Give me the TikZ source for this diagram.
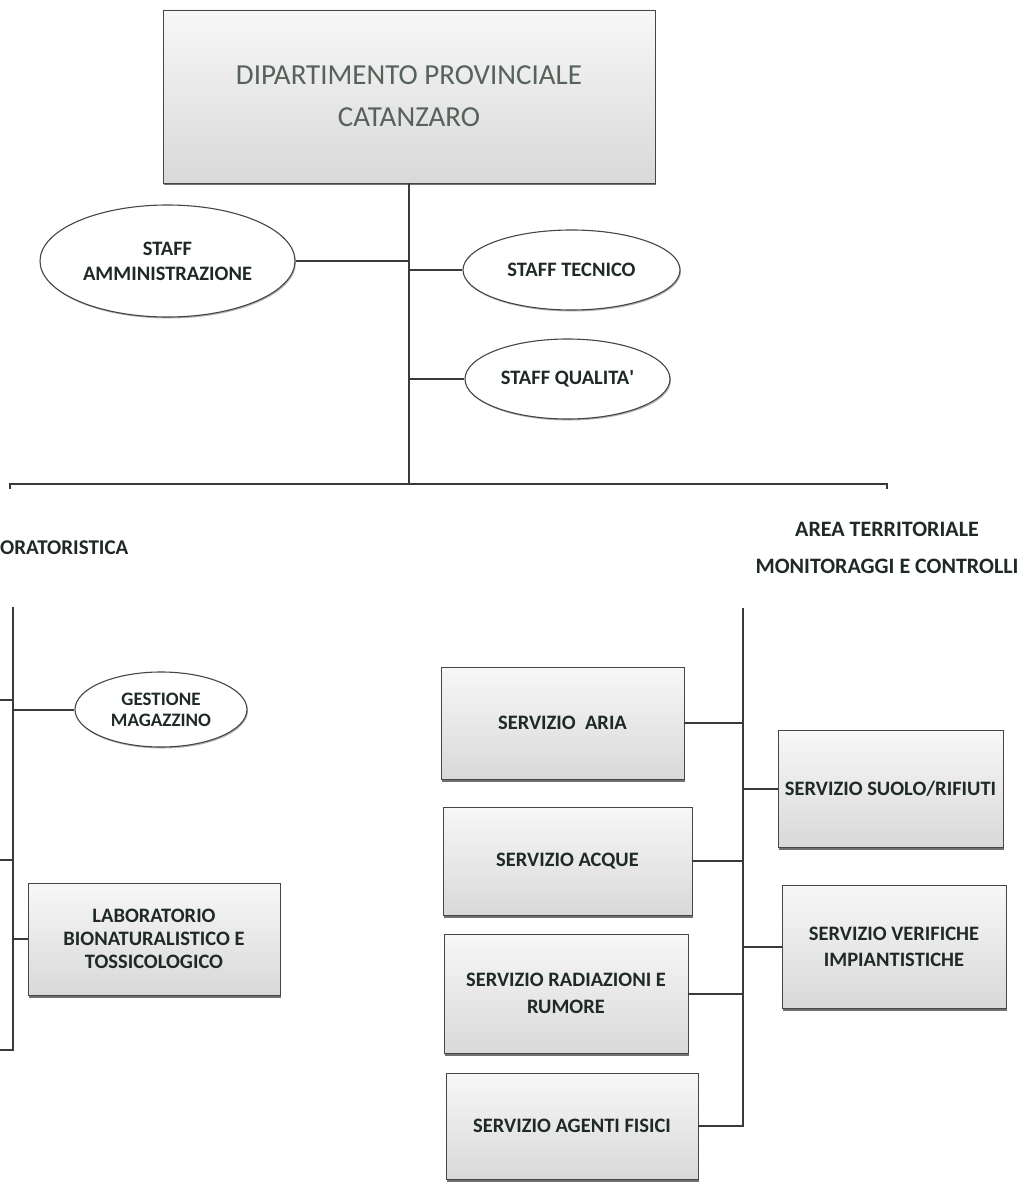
\documentclass[tikz,border=0pt]{standalone}
\usepackage{fontspec}
\setmainfont{Carlito}
\usetikzlibrary{shapes.geometric,shadows}
\definecolor{txt}{HTML}{1F2A24}
\definecolor{toptxt}{HTML}{56625A}
\definecolor{ln}{HTML}{3A3A3A}
\tikzset{
  boxnode/.style={rectangle, draw=gray!55!black, line width=0.8pt, top color=gray!6, bottom color=gray!30,
    text=txt, align=center, inner sep=0pt,
    drop shadow={shadow xshift=1pt, shadow yshift=-2.5pt, fill=black!65, opacity=0.85}},
  ellnode/.style={ellipse, draw=gray!55!black, line width=1.1pt, fill=white, text=txt, align=center, inner sep=0pt,
    drop shadow={shadow xshift=1pt, shadow yshift=-1.5pt, fill=black!50, opacity=0.6}},
  lbl/.style={font=\bfseries\fontsize{20.5}{#1}\selectfont},
  lbl/.default=24,
  conn/.style={draw=ln, line width=2pt},
}
\begin{document}
\begin{tikzpicture}[x=1pt,y=-1pt]
\useasboundingbox[fill=white] (0,0) rectangle (1031,1182);

% top box
\node[boxnode, minimum width=492pt, minimum height=173pt, text=toptxt,
      font=\fontsize{29}{42}\selectfont] (top) at (409,96.5)
      {DIPARTIMENTO PROVINCIALE\\CATANZARO};

% staff
\node[ellnode, lbl=25, minimum width=255pt, minimum height=112pt] (samm) at (167.5,261) {STAFF\\AMMINISTRAZIONE};
\node[ellnode, lbl, minimum width=217pt, minimum height=80pt] (stec) at (571.5,270) {STAFF TECNICO};
\node[ellnode, lbl, minimum width=205pt, minimum height=80pt] (squal) at (567.5,379) {STAFF QUALITA\textquotesingle};

\coordinate (j) at (409,484);
\coordinate (hl) at (10,484);
\coordinate (hr) at (887,484);

\draw[conn] (top.south) -- (j);
\draw[conn] (samm.east) -- (samm.east -| j);
\draw[conn] (stec.west) -- (stec.west -| j);
\draw[conn] (squal.west) -- (squal.west -| j);
\draw[conn] ([yshift=-5pt]hl) -- (hl) -- (hr) -- ([yshift=-5pt]hr);

% area labels
\node[anchor=west, text=txt, font=\bfseries\fontsize{21}{24}\selectfont, inner sep=0pt] (arealab) at (0,548) {ORATORISTICA};
\node[text=txt, font=\bfseries\fontsize{22}{37}\selectfont, align=center, inner sep=0pt] (areater) at (887,548)
   {AREA TERRITORIALE\\MONITORAGGI E CONTROLLI};

% left branch
\coordinate (lt) at (13,607);
\coordinate (lb) at (13,1050);
\coordinate (lbe) at (0,1050);
\coordinate (ls1) at (0,700);
\coordinate (ls2) at (0,860);
\node[ellnode, font=\bfseries\fontsize{19}{21}\selectfont, minimum width=172pt, minimum height=75pt] (gest) at (161,709.5) {GESTIONE\\MAGAZZINO};
\node[boxnode, lbl=23, minimum width=252pt, minimum height=112pt] (lab) at (154,939) {LABORATORIO\\BIONATURALISTICO E\\TOSSICOLOGICO};
\draw[conn] (lt) -- (lb) -- (lbe);
\draw[conn] (ls1) -- (ls1 -| lt);
\draw[conn] (ls2) -- (ls2 -| lt);
\draw[conn] (gest.west) -- (gest.west -| lt);
\draw[conn] (lab.west) -- (lab.west -| lt);

% right branch
\coordinate (rt) at (743,608);
\node[boxnode, lbl, minimum width=243pt, minimum height=112pt] (aria) at (562.5,723) {SERVIZIO\ \ ARIA};
\node[boxnode, lbl, minimum width=249pt, minimum height=108pt] (acque) at (567.5,861) {SERVIZIO ACQUE};
\node[boxnode, lbl=27, minimum width=244pt, minimum height=119pt] (radiaz) at (566,993.5) {SERVIZIO RADIAZIONI E\\RUMORE};
\node[boxnode, lbl, minimum width=252pt, minimum height=106pt] (agenti) at (572,1126) {SERVIZIO AGENTI FISICI};
\node[boxnode, lbl, minimum width=225pt, minimum height=117pt] (suolo) at (890.5,788.5) {SERVIZIO SUOLO/RIFIUTI};
\node[boxnode, lbl=26, minimum width=224pt, minimum height=123pt] (verif) at (894,946.5) {SERVIZIO VERIFICHE\\IMPIANTISTICHE};

\draw[conn] (rt) -- (rt |- agenti.east) -- (agenti.east);
\draw[conn] (aria.east) -- (aria.east -| rt);
\draw[conn] (acque.east) -- (acque.east -| rt);
\draw[conn] (radiaz.east) -- (radiaz.east -| rt);
\draw[conn] (suolo.west) -- (suolo.west -| rt);
\draw[conn] (verif.west) -- (verif.west -| rt);
\end{tikzpicture}
\end{document}
